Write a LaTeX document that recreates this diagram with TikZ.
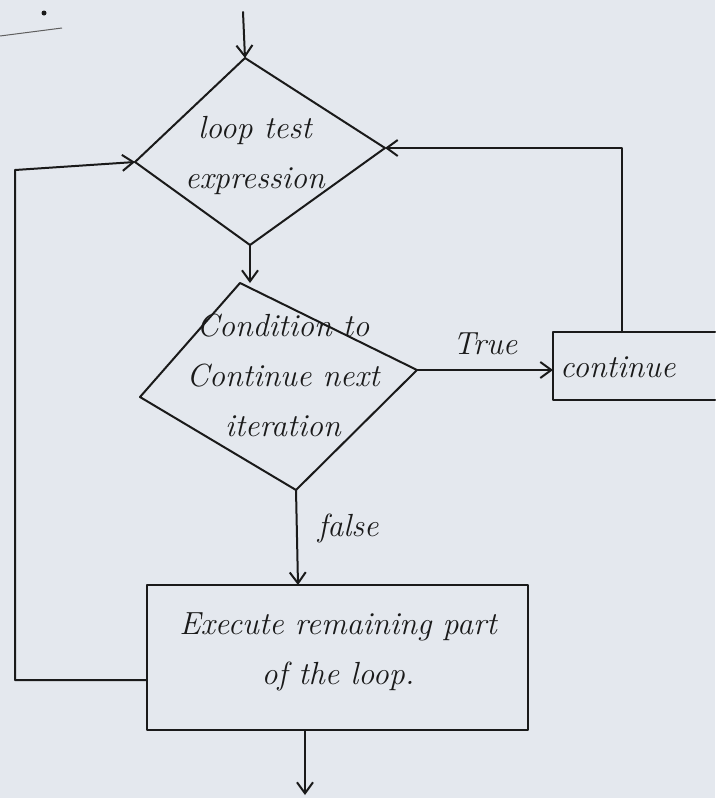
\documentclass[tikz,border=0pt]{standalone}
\usetikzlibrary{arrows.meta}
\definecolor{paper}{HTML}{E4E8EE}
\definecolor{ink}{HTML}{1A1A1A}
\begin{document}
\begin{tikzpicture}[x=1pt,y=-1pt,
  line/.style={draw=ink,line width=2pt,line cap=round,line join=round},
  arr/.style={line,-{Straight Barb[length=11pt,width=16pt,line width=2pt]}},
  lbl/.style={font=\fontsize{32}{50}\selectfont\itshape,text=ink,inner sep=0pt,align=center}]
\fill[paper] (0,0) rectangle (715,798);
\useasboundingbox (0,0) rectangle (715,798);
% page remnants
\fill[ink] (44,13) circle (2.5);
\draw[ink!70,line width=1pt] (0,36) -- (62,28);
% diamond 1
\coordinate (d1t) at (245,58);
\coordinate (d1r) at (385,148);
\coordinate (d1b) at (250,245);
\coordinate (d1l) at (135,162);
\draw[line] (d1t) -- (d1r) -- (d1b) -- (d1l) -- cycle;
\node[lbl] (d1txt) at (255,155) {loop test\\expression};
% diamond 2
\coordinate (d2t) at (240,283);
\coordinate (d2r) at (417,370);
\coordinate (d2b) at (296,490);
\coordinate (d2l) at (140,397);
\draw[line] (d2t) -- (d2r) -- (d2b) -- (d2l) -- cycle;
\node[lbl] (d2txt) at (283,375) {Condition to\\Continue next\\iteration};
% continue box (open to the right)
\coordinate (ctl) at (553,332);
\coordinate (cbl) at (553,400);
\coordinate (ctr) at (715,332);
\coordinate (cbr) at (715,400);
\draw[line] (ctr) -- (ctl) -- (cbl) -- (cbr);
\node[lbl,anchor=west] (ctxt) at (560,367) {continue};
\coordinate (ctop) at (622,332);
\coordinate (cup) at (622,148);
% execute box
\node[line,minimum width=381pt,minimum height=145pt,inner sep=0pt] (ex) at (337.5,657.5) {};
\node[lbl] (extxt) at (338,652) {Execute remaining part\\of the loop.};
% start / end points
\coordinate (start) at (243,12);
\coordinate (exl) at (ex.west |- 0,680);
\coordinate (ll) at (15,680);
\coordinate (lu) at (15,170);
\coordinate (extop) at (298,585);
\coordinate (exbot) at (305,730);
\coordinate (endp) at (305,795);
% connectors
\draw[arr] (start) -- (d1t);
\draw[arr] (d1b) -- (d2t -| d1b) ;
\draw[arr] (d2r) -- (d2r -| ctl) node[lbl,midway,above=14pt] (ttxt) {True};
\draw[arr] (ctop) -- (cup) -- (d1r);
\draw[arr] (d2b) -- (extop) node[lbl,pos=0.4,right=20pt] (ftxt) {false};
\draw[arr] (exl) -- (ll) -- (lu) -- (d1l);
\draw[arr] (exbot) -- (endp);
\end{tikzpicture}
\end{document}
